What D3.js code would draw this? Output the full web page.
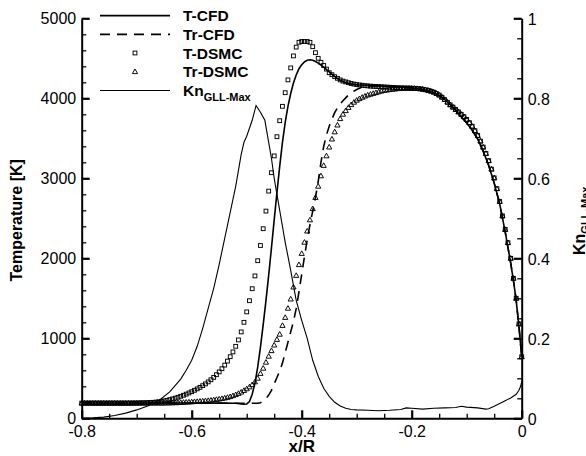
<!DOCTYPE html>
<html>
<head>
<meta charset="utf-8">
<script src="https://d3js.org/d3.v7.min.js"></script>
<style>
html,body{margin:0;padding:0;background:#fff;}
svg{display:block;}
text{font-family:"Liberation Sans",Arial,Helvetica,sans-serif;fill:#000;}
</style>
</head>
<body>
<svg id="chart" width="586" height="456"></svg>
<script>
// ---------------- DATA ----------------
const xTickValues = [-0.8, -0.6, -0.4, -0.2, 0];
const xTickLabels = ["-0.8", "-0.6", "-0.4", "-0.2", "0"];
const yTickValues = [0, 1000, 2000, 3000, 4000, 5000];
const yTickLabels = ["0", "1000", "2000", "3000", "4000", "5000"];
const y2TickValues = [0, 0.2, 0.4, 0.6, 0.8, 1];
const y2TickLabels = ["0", "0.2", "0.4", "0.6", "0.8", "1"];
const seriesNames = ["T-CFD", "Tr-CFD", "T-DSMC", "Tr-DSMC", "Kn"];

// CFD temperatures [x/R, K]
const tCFD = [[-0.80,192],[-0.70,192],[-0.60,191],[-0.55,190],[-0.52,188],[-0.51,180],[-0.505,175],[-0.50,178],[-0.495,210],[-0.49,300],[-0.485,440],[-0.48,640],[-0.475,890],[-0.47,1170],[-0.465,1470],[-0.46,1790],[-0.455,2130],[-0.45,2480],[-0.445,2820],[-0.44,3150],[-0.435,3450],[-0.43,3700],[-0.425,3900],[-0.42,4060],[-0.415,4190],[-0.41,4290],[-0.405,4370],[-0.40,4420],[-0.395,4455],[-0.39,4475],[-0.385,4482],[-0.38,4475],[-0.375,4460],[-0.37,4440],[-0.36,4390],[-0.35,4330],[-0.34,4270],[-0.33,4225],[-0.32,4195],[-0.31,4180],[-0.30,4170],[-0.28,4162],[-0.26,4155],[-0.24,4148],[-0.22,4140],[-0.20,4130],[-0.18,4110],[-0.16,4070],[-0.15,4035],[-0.14,3985],[-0.13,3920],[-0.12,3850],[-0.11,3770],[-0.10,3690],[-0.09,3600],[-0.08,3490],[-0.07,3340],[-0.06,3160],[-0.05,2940],[-0.04,2680],[-0.03,2330],[-0.02,1940],[-0.015,1720],[-0.01,1470],[-0.005,1150],[0,770]];

const trCFD = [[-0.80,192],[-0.70,192],[-0.60,191],[-0.50,188],[-0.48,188],[-0.475,195],[-0.47,215],[-0.465,245],[-0.46,290],[-0.455,350],[-0.45,430],[-0.445,510],[-0.44,590],[-0.435,690],[-0.43,820],[-0.425,950],[-0.42,1080],[-0.415,1210],[-0.41,1370],[-0.405,1580],[-0.40,1800],[-0.395,2020],[-0.39,2230],[-0.385,2420],[-0.38,2590],[-0.375,2760],[-0.37,2960],[-0.365,3200],[-0.36,3400],[-0.355,3540],[-0.35,3650],[-0.345,3740],[-0.34,3820],[-0.335,3880],[-0.33,3930],[-0.325,3970],[-0.32,4005],[-0.315,4040],[-0.31,4070],[-0.305,4090],[-0.30,4110],[-0.29,4140],[-0.28,4155],[-0.26,4155],[-0.24,4148],[-0.22,4140],[-0.20,4130],[-0.18,4110],[-0.16,4070],[-0.15,4035],[-0.14,3985],[-0.13,3920],[-0.12,3850],[-0.11,3770],[-0.10,3690],[-0.09,3600],[-0.08,3490],[-0.07,3340],[-0.06,3160],[-0.05,2940],[-0.04,2680],[-0.03,2330],[-0.02,1940],[-0.015,1720],[-0.01,1470],[-0.005,1150],[0,770]];

// Knudsen number (right axis) [x/R, Kn]
const knGLL = [[-0.80,0.0],[-0.78,0.001],[-0.76,0.003],[-0.74,0.007],[-0.72,0.013],[-0.70,0.021],[-0.68,0.031],[-0.66,0.044],[-0.64,0.066],[-0.62,0.098],[-0.61,0.12],[-0.60,0.145],[-0.59,0.18],[-0.58,0.225],[-0.57,0.275],[-0.56,0.325],[-0.55,0.385],[-0.54,0.45],[-0.53,0.515],[-0.52,0.58],[-0.51,0.66],[-0.505,0.69],[-0.50,0.705],[-0.49,0.745],[-0.483,0.782],[-0.475,0.765],[-0.467,0.745],[-0.46,0.69],[-0.455,0.65],[-0.45,0.60],[-0.44,0.52],[-0.43,0.44],[-0.42,0.37],[-0.41,0.295],[-0.40,0.245],[-0.39,0.20],[-0.38,0.145],[-0.37,0.105],[-0.36,0.075],[-0.35,0.055],[-0.34,0.04],[-0.33,0.031],[-0.32,0.025],[-0.31,0.022],[-0.30,0.021],[-0.28,0.02],[-0.26,0.019],[-0.24,0.02],[-0.22,0.022],[-0.21,0.026],[-0.20,0.025],[-0.18,0.023],[-0.16,0.025],[-0.14,0.026],[-0.12,0.027],[-0.11,0.03],[-0.10,0.028],[-0.08,0.026],[-0.065,0.023],[-0.06,0.024],[-0.05,0.03],[-0.04,0.037],[-0.03,0.044],[-0.02,0.051],[-0.01,0.06],[-0.005,0.07],[-0.002,0.08],[0,0.092]];

// DSMC sample positions x/R
const dsmcX = [
-0.800,-0.795,-0.790,-0.785,-0.780,-0.775,-0.770,-0.765,-0.760,-0.755,-0.750,-0.745,-0.740,-0.735,-0.730,-0.725,-0.720,-0.715,-0.710,-0.705,
-0.700,-0.695,-0.690,-0.685,-0.680,-0.675,-0.670,-0.665,-0.660,-0.655,-0.650,-0.645,-0.640,-0.635,-0.630,-0.625,-0.620,-0.615,-0.610,-0.605,
-0.600,-0.595,-0.590,-0.585,-0.580,-0.575,-0.570,-0.565,-0.560,-0.555,-0.550,-0.545,-0.540,-0.535,-0.530,-0.525,-0.520,-0.515,-0.510,-0.505,
-0.500,-0.495,-0.490,-0.485,-0.480,-0.475,-0.470,-0.465,-0.460,-0.455,-0.450,-0.445,-0.440,-0.435,-0.430,-0.425,-0.420,-0.415,-0.410,-0.405,
-0.400,-0.395,-0.390,-0.385,-0.380,-0.375,-0.370,-0.365,-0.360,-0.355,-0.350,-0.345,-0.340,-0.335,-0.330,-0.325,-0.320,-0.315,-0.310,-0.305,
-0.300,-0.295,-0.290,-0.285,-0.280,-0.275,-0.270,-0.265,-0.260,-0.255,-0.250,-0.245,-0.240,-0.235,-0.230,-0.225,-0.220,-0.215,-0.210,-0.205,
-0.200,-0.195,-0.190,-0.185,-0.180,-0.175,-0.170,-0.165,-0.160,-0.155,-0.150,-0.145,-0.140,-0.135,-0.130,-0.125,-0.120,-0.115,-0.110,-0.105,
-0.100,-0.095,-0.090,-0.085,-0.080,-0.075,-0.070,-0.065,-0.060,-0.055,-0.050,-0.045,-0.040,-0.035,-0.030,-0.025,-0.020,-0.015,-0.010,-0.005,
0.000];

const tDSMC = [
190,190,190,190,190,190,190,190,190,190,190,190,190,190,190,190,190,190,190,191,
191,192,193,194,195,197,200,203,207,212,218,225,233,242,252,263,275,288,302,317,
333,350,368,387,408,430,455,482,512,545,580,620,665,715,770,830,900,980,1080,1200,
1330,1470,1620,1780,1970,2160,2370,2590,2840,3070,3280,3520,3720,3900,4070,4230,4380,4530,4640,4700,
4710,4710,4710,4700,4645,4570,4500,4450,4410,4365,4320,4295,4270,4250,4230,4215,4205,4195,4185,4178,
4172,4167,4163,4158,4155,4152,4150,4148,4146,4144,4142,4140,4138,4136,4134,4132,4130,4129,4128,4127,
4126,4124,4121,4118,4113,4106,4098,4088,4076,4060,4040,4013,3983,3950,3918,3890,3860,3830,3800,3770,
3735,3695,3650,3595,3535,3465,3390,3310,3220,3115,3005,2870,2710,2530,2360,2195,2000,1750,1500,1180,
770];

const trDSMC = [
190,190,190,190,190,190,190,190,190,190,190,190,190,190,190,190,190,190,190,190,
190,190,190,190,190,190,190,190,190,190,190,191,192,193,194,195,197,199,201,203,
205,208,210,213,216,219,222,226,230,235,240,246,253,261,270,282,295,310,327,347,
368,392,420,455,500,560,625,700,775,845,915,985,1050,1160,1260,1375,1490,1640,1785,1920,
2060,2200,2340,2480,2620,2760,2900,3030,3160,3280,3390,3490,3580,3665,3745,3800,3845,3885,3920,3950,
3975,3995,4012,4027,4040,4050,4060,4070,4080,4090,4097,4103,4108,4112,4116,4120,4123,4125,4126,4126,
4125,4124,4122,4119,4115,4108,4100,4090,4078,4062,4042,4015,3985,3953,3920,3890,3860,3830,3800,3770,
3735,3695,3650,3595,3535,3465,3390,3310,3220,3115,3005,2870,2710,2530,2360,2195,2000,1750,1500,1180,
770];

// ---------------- CHART ----------------
const svg = d3.select("#chart");
const L = 81.7, R = 521.7, T = 18.3, B = 418.3;
const x = d3.scaleLinear().domain([-0.8, 0]).range([L, R]);
const y = d3.scaleLinear().domain([0, 5000]).range([B, T]);
const y2 = d3.scaleLinear().domain([0, 1]).range([B, T]);
const FONT = '"Liberation Sans",Arial,Helvetica,sans-serif';

const plot = svg.append("g");

const lineT = d3.line().x(d => x(d[0])).y(d => y(d[1]));
const lineK = d3.line().x(d => x(d[0])).y(d => y2(d[1]));

plot.append("path").datum(knGLL).attr("d", lineK)
  .attr("fill", "none").attr("stroke", "#000").attr("stroke-width", 1.1);
plot.append("path").datum(trCFD).attr("d", lineT)
  .attr("fill", "none").attr("stroke", "#000").attr("stroke-width", 1.6)
  .attr("stroke-dasharray", "10,7");
plot.append("path").datum(tCFD).attr("d", lineT)
  .attr("fill", "none").attr("stroke", "#000").attr("stroke-width", 1.6);

const sq = 3.8;
plot.append("g").selectAll("rect").data(dsmcX.map((v, i) => [v, tDSMC[i]])).join("rect")
  .attr("x", d => x(d[0]) - sq / 2).attr("y", d => y(d[1]) - sq / 2)
  .attr("width", sq).attr("height", sq)
  .attr("fill", "none").attr("stroke", "#000").attr("stroke-width", 0.95);

const triPath = "M0,-2.7L2.6,1.9L-2.6,1.9Z";
plot.append("g").selectAll("path").data(dsmcX.map((v, i) => [v, trDSMC[i]])).join("path")
  .attr("d", triPath)
  .attr("transform", d => `translate(${x(d[0])},${y(d[1])})`)
  .attr("fill", "none").attr("stroke", "#000").attr("stroke-width", 0.95);

function styleAxis(g) {
  g.select(".domain").attr("stroke", "#000").attr("stroke-width", 2);
  g.selectAll(".tick line").attr("stroke", "#000");
  g.selectAll("text").attr("font-family", FONT).attr("font-size", 16).attr("fill", "#000");
}

const xMinor = x.ticks(16).filter(v => !xTickValues.some(m => Math.abs(m - v) < 1e-9));
const yMinor = y.ticks(25).filter(v => v % 1000 !== 0);
const y2Minor = y2.ticks(20).filter(v => !y2TickValues.some(m => Math.abs(m - v) < 1e-9));

const gxMinor = svg.append("g").attr("transform", `translate(0,${B})`)
  .call(d3.axisBottom(x).tickValues(xMinor).tickSizeInner(-4.5).tickSizeOuter(0).tickFormat(""));
gxMinor.select(".domain").remove();
gxMinor.selectAll(".tick line").attr("stroke", "#000").attr("stroke-width", 1.3);

const gyMinor = svg.append("g").attr("transform", `translate(${L},0)`)
  .call(d3.axisLeft(y).tickValues(yMinor).tickSizeInner(-4.5).tickSizeOuter(0).tickFormat(""));
gyMinor.select(".domain").remove();
gyMinor.selectAll(".tick line").attr("stroke", "#000").attr("stroke-width", 1.3);

const gy2Minor = svg.append("g").attr("transform", `translate(${R},0)`)
  .call(d3.axisRight(y2).tickValues(y2Minor).tickSizeInner(-4.5).tickSizeOuter(0).tickFormat(""));
gy2Minor.select(".domain").remove();
gy2Minor.selectAll(".tick line").attr("stroke", "#000").attr("stroke-width", 1.3);

const gx = svg.append("g").attr("transform", `translate(0,${B})`)
  .call(d3.axisBottom(x).tickValues(xTickValues).tickSizeInner(-8).tickSizeOuter(0)
    .tickFormat((d, i) => xTickLabels[i]));
styleAxis(gx);
gx.selectAll(".tick line").attr("stroke-width", 2.2);
gx.selectAll("text").attr("y", 18.3).attr("dy", null);

const gy = svg.append("g").attr("transform", `translate(${L},0)`)
  .call(d3.axisLeft(y).tickValues(yTickValues).tickSizeInner(-8).tickSizeOuter(0)
    .tickFormat((d, i) => yTickLabels[i]));
styleAxis(gy);
gy.selectAll(".tick line").attr("stroke-width", 2.2);
gy.selectAll("text").attr("x", -5.5).attr("dy", null).attr("y", 5.6);

const gy2 = svg.append("g").attr("transform", `translate(${R},0)`)
  .call(d3.axisRight(y2).tickValues(y2TickValues).tickSizeInner(-8).tickSizeOuter(0)
    .tickFormat((d, i) => y2TickLabels[i]));
styleAxis(gy2);
gy2.selectAll(".tick line").attr("stroke-width", 2.2);
gy2.selectAll("text").attr("x", 6).attr("dy", null).attr("y", 6);

svg.append("text").attr("x", (L + R) / 2).attr("y", 452.3).attr("text-anchor", "middle")
  .attr("font-size", 17).attr("font-weight", "bold").attr("font-family", FONT).text("x/R");

svg.append("text").attr("transform", `translate(22,${(T + B) / 2 + 2}) rotate(-90)`)
  .attr("text-anchor", "middle").attr("font-size", 16).attr("font-weight", "bold")
  .attr("font-family", FONT).text("Temperature [K]");

const rt = svg.append("text").attr("transform", `translate(585,255) rotate(-90)`)
  .attr("text-anchor", "start").attr("font-size", 16).attr("font-weight", "bold")
  .attr("font-family", FONT);
rt.append("tspan").text("Kn");
rt.append("tspan").attr("font-size", 11).attr("dy", 4).text("GLL-Max");

const legY = [15.7, 34.3, 53, 71.7, 90.5];
const leg = svg.append("g");
leg.append("line").attr("x1", 100).attr("x2", 170).attr("y1", legY[0]).attr("y2", legY[0])
  .attr("stroke", "#000").attr("stroke-width", 1.8);
leg.append("line").attr("x1", 100).attr("x2", 170).attr("y1", legY[1]).attr("y2", legY[1])
  .attr("stroke", "#000").attr("stroke-width", 1.8).attr("stroke-dasharray", "10,7");
leg.append("rect").attr("x", 135 - sq / 2).attr("y", legY[2] - sq / 2).attr("width", sq).attr("height", sq)
  .attr("fill", "none").attr("stroke", "#000").attr("stroke-width", 0.95);
leg.append("path").attr("d", triPath).attr("transform", `translate(135,${legY[3]})`)
  .attr("fill", "none").attr("stroke", "#000").attr("stroke-width", 0.95);
leg.append("line").attr("x1", 100).attr("x2", 170).attr("y1", legY[4]).attr("y2", legY[4])
  .attr("stroke", "#000").attr("stroke-width", 1.2);

const legLabels = ["T-CFD", "Tr-CFD", "T-DSMC", "Tr-DSMC"];
legLabels.forEach((s, i) => {
  leg.append("text").attr("x", 183).attr("y", legY[i] + 5.5)
    .attr("font-size", 15.5).attr("font-weight", "bold").attr("font-family", FONT).text(s);
});
const kt = leg.append("text").attr("x", 183).attr("y", legY[4] + 5.5)
  .attr("font-size", 15.5).attr("font-weight", "bold").attr("font-family", FONT);
kt.append("tspan").text("Kn");
kt.append("tspan").attr("font-size", 11).attr("dy", 4.5).text("GLL-Max");
</script>
</body>
</html>
